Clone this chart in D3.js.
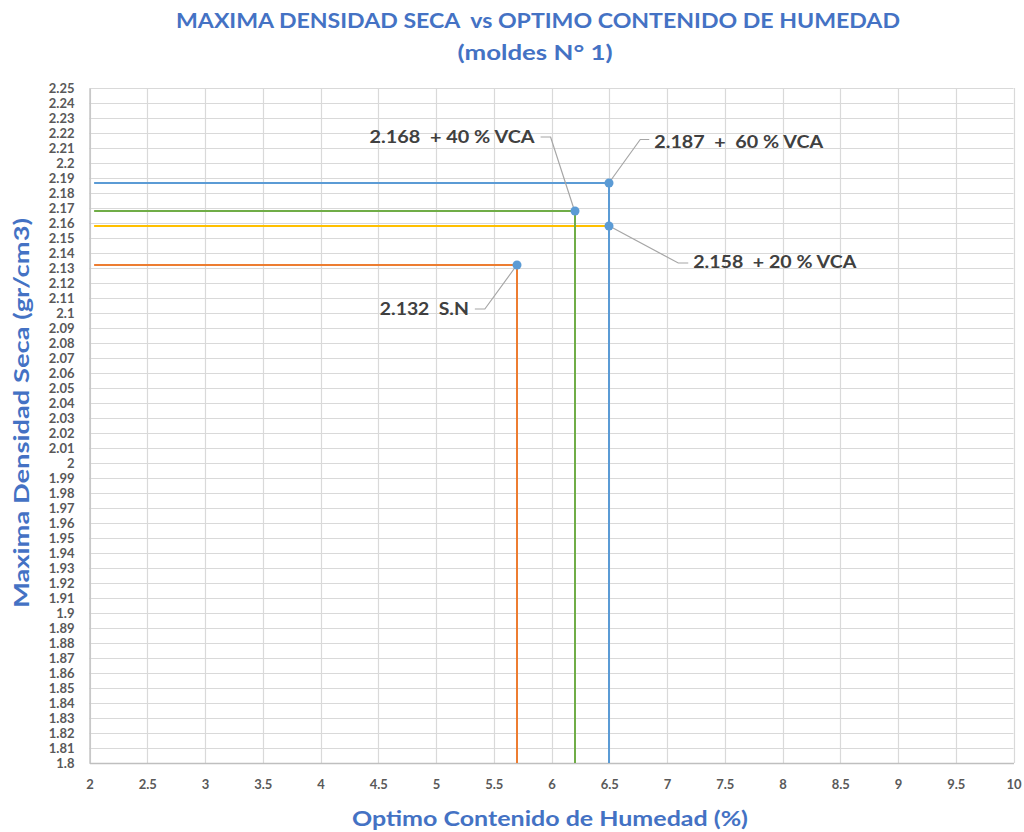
<!DOCTYPE html>
<html><head><meta charset="utf-8">
<script src="https://cdn.jsdelivr.net/npm/d3@7"></script>
<style>
html,body{margin:0;padding:0;background:#fff;}
svg{display:block;}
text{white-space:pre;}
</style>
</head><body>
<svg id="chart" width="1024" height="832"></svg>
<script>
// ---- data ----
const titleLines = ["MAXIMA DENSIDAD SECA  vs OPTIMO CONTENIDO DE HUMEDAD", "(moldes N° 1)"];
const xAxisTitle = "Optimo Contenido de Humedad (%)";
const yAxisTitle = "Maxima Densidad Seca (gr/cm3)";
const xTicks = [2, 2.5, 3, 3.5, 4, 4.5, 5, 5.5, 6, 6.5, 7, 7.5, 8, 8.5, 9, 9.5, 10];
const yTicks = [1.80,1.81,1.82,1.83,1.84,1.85,1.86,1.87,1.88,1.89,1.90,1.91,1.92,1.93,1.94,1.95,1.96,1.97,1.98,1.99,
                2.00,2.01,2.02,2.03,2.04,2.05,2.06,2.07,2.08,2.09,2.10,2.11,2.12,2.13,2.14,2.15,2.16,2.17,2.18,2.19,
                2.20,2.21,2.22,2.23,2.24,2.25];
const seriesNames = ["S.N", "20 % VCA", "40 % VCA", "60 % VCA"];
const humedad = [5.7, 6.5, 6.2, 6.5];          // optimo contenido de humedad (%)
const densidad = [2.132, 2.158, 2.168, 2.187];  // maxima densidad seca (gr/cm3)
const dropToAxis = [true, false, true, true];   // vertical guide down to the x axis
const pointLabels = ["2.132  S.N", "2.158  + 20 % VCA", "2.168  + 40 % VCA", "2.187  +  60 % VCA"];
const guideStartX = 2.04;
const yMin = 1.8;

// ---- style / layout ----
const lineColors = ["#ED7D31", "#FFC000", "#70AD47", "#5B9BD5"];
const drawOrder = [0, 1, 2, 3];
const W = 1024, H = 832;
const m = {left: 89.5, right: 1013.5, top: 88, bottom: 763};
// label placement: text start (dx,dy rel. point), leader elbow, leader end
const labelLayout = [
  {tx: -137, ty: 50, elbow: [-32, 44], end: [-42, 44], width: 89},
  {tx: 84, ty: 42, elbow: [69, 37], end: [79, 37], width: 163},
  {tx: -205, ty: -68, elbow: [-24, -74], end: [-34, -74], width: 165},
  {tx: 45, ty: -35, elbow: [31, -43], end: [40, -43], width: 169}
];

const svg = d3.select("#chart");
const x = d3.scaleLinear().domain([2, 10]).range([m.left, m.right]);
const y = d3.scaleLinear().domain([1.8, 2.25]).range([m.bottom, m.top]);
const fmt = v => String(+v.toFixed(2));
const snap = v => Math.round(v) + 0.5;

// grid
const grid = svg.append("g");
grid.selectAll("line.h").data(yTicks).join("line")
  .attr("x1", m.left).attr("x2", m.right)
  .attr("y1", d => snap(y(d))).attr("y2", d => snap(y(d)))
  .attr("stroke", "#d9d9d9").attr("stroke-width", 1.2);
grid.selectAll("line.v").data(xTicks).join("line")
  .attr("y1", m.top).attr("y2", m.bottom)
  .attr("x1", d => snap(x(d))).attr("x2", d => snap(x(d)))
  .attr("stroke", "#d9d9d9").attr("stroke-width", 1.2);

// axes
const yAxis = d3.axisLeft(y).tickValues(yTicks).tickFormat(fmt).tickSize(0).tickPadding(15);
const xAxis = d3.axisBottom(x).tickValues(xTicks).tickFormat(fmt).tickSize(0).tickPadding(17);
const gy = svg.append("g").attr("transform", `translate(${m.left},0)`).call(yAxis);
const gx = svg.append("g").attr("transform", `translate(0,${m.bottom})`).call(xAxis);
[gx, gy].forEach(g => {
  g.select(".domain").attr("stroke", "#bfbfbf").attr("stroke-width", 1.3);
  g.selectAll("text").attr("fill", "#595959").attr("font-family", "Lato, 'Open Sans', sans-serif")
   .attr("font-weight", "bold").attr("font-size", "13px");
});

// guide lines
const guides = svg.append("g");
drawOrder.forEach(i => {
  const px = Math.round(x(humedad[i])), py = Math.round(y(densidad[i]));
  const path = d3.path();
  path.moveTo(x(guideStartX), py);
  path.lineTo(px, py);
  if (dropToAxis[i]) path.lineTo(px, y(yMin));
  guides.append("path").attr("d", path.toString()).attr("fill", "none")
    .attr("stroke", lineColors[i]).attr("stroke-width", 2);
});

// leaders
const lead = svg.append("g");
humedad.forEach((hx, i) => {
  const px = x(hx), py = y(densidad[i]), L = labelLayout[i];
  lead.append("polyline")
    .attr("points", [[px, py], [px + L.elbow[0], py + L.elbow[1]], [px + L.end[0], py + L.end[1]]].map(p => p.join(",")).join(" "))
    .attr("fill", "none").attr("stroke", "#a6a6a6").attr("stroke-width", 1.2);
});

// points
svg.append("g").selectAll("circle").data(humedad).join("circle")
  .attr("cx", (d) => Math.round(x(d))).attr("cy", (d, i) => Math.round(y(densidad[i])))
  .attr("r", 4.5).attr("fill", "#5B9BD5");

// labels
humedad.forEach((hx, i) => {
  const px = x(hx), py = y(densidad[i]), L = labelLayout[i];
  svg.append("text").attr("x", px + L.tx).attr("y", py + L.ty)
    .attr("fill", "#404040").attr("font-family", "Lato, 'Open Sans', sans-serif")
    .attr("font-weight", "bold").attr("font-size", "16.5px")
    .attr("textLength", L.width).attr("lengthAdjust", "spacingAndGlyphs")
    .text(pointLabels[i]);
});

// titles
const titleFont = "Lato, 'Open Sans', sans-serif";
svg.append("text").attr("x", 538).attr("y", 28).attr("text-anchor", "middle")
  .attr("fill", "#4472C4").attr("font-family", titleFont).attr("font-weight", "bold").attr("font-size", "20px")
  .attr("textLength", 724).attr("lengthAdjust", "spacingAndGlyphs").text(titleLines[0]);
svg.append("text").attr("x", 535).attr("y", 60).attr("text-anchor", "middle")
  .attr("fill", "#4472C4").attr("font-family", titleFont).attr("font-weight", "bold").attr("font-size", "20px")
  .attr("textLength", 155).attr("lengthAdjust", "spacingAndGlyphs").text(titleLines[1]);
svg.append("text").attr("x", 550).attr("y", 826).attr("text-anchor", "middle")
  .attr("fill", "#4472C4").attr("font-family", titleFont).attr("font-weight", "bold").attr("font-size", "20px")
  .attr("textLength", 396).attr("lengthAdjust", "spacingAndGlyphs").text(xAxisTitle);
svg.append("text").attr("transform", "translate(29,413) rotate(-90)").attr("text-anchor", "middle")
  .attr("fill", "#4472C4").attr("font-family", titleFont).attr("font-weight", "bold").attr("font-size", "20px")
  .attr("textLength", 390).attr("lengthAdjust", "spacingAndGlyphs").text(yAxisTitle);
</script>
</body></html>
